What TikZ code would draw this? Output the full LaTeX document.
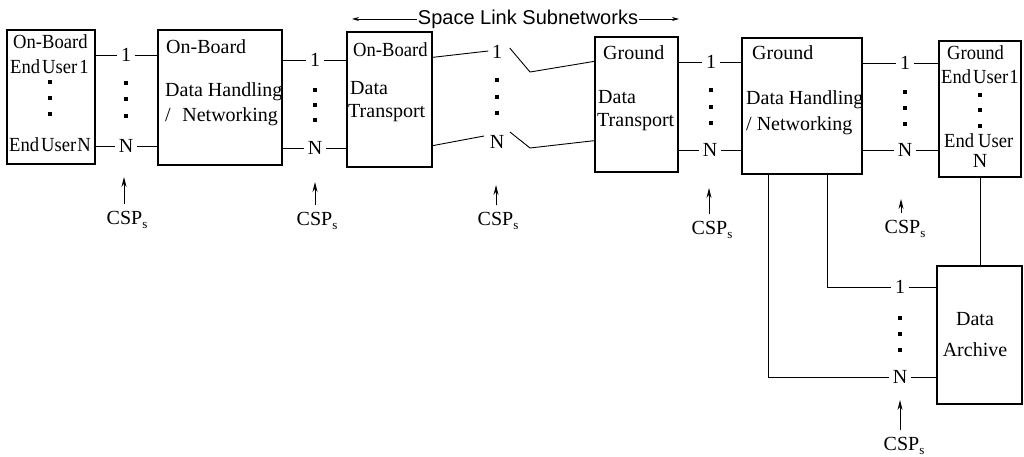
\documentclass[tikz,border=0pt]{standalone}
\usepackage{fontspec}
\setmainfont{Liberation Serif}
\newfontfamily\hdfont{Liberation Sans}
\newfontfamily\narrowfont[FakeStretch=0.93]{Liberation Serif}
\usetikzlibrary{arrows.meta,calc}
\newcommand{\cspsub}{CSP\raisebox{-4pt}{\fontsize{13}{13}\selectfont s}}
\begin{document}
\begin{tikzpicture}[x=1pt,y=-1pt,
  box/.style={draw,line width=1.3pt,inner sep=0pt},
  txt/.style={anchor=west,inner sep=0pt,font=\fontsize{20}{22}\selectfont},
  ntxt/.style={anchor=west,inner sep=0pt,font=\narrowfont\fontsize{20}{22}\selectfont},
  ctr/.style={inner sep=0pt,font=\fontsize{20}{22}\selectfont},
  lbl/.style={inner sep=3.5pt,font=\fontsize{20}{22}\selectfont},
  cspnode/.style={inner sep=0pt,outer sep=7pt,font=\fontsize{20}{22}\selectfont},
  dot/.style={fill,inner sep=0pt,minimum size=3.2pt},
  wire/.style={line width=0.9pt},
  csp/.style={line width=0.9pt,-{Stealth[length=10pt,width=5pt]}},
  hdarr/.style={line width=0.9pt,-{Stealth[length=7pt,width=4pt]}},
]
\useasboundingbox (0,0) rectangle (1024,457);

% ---------------- boxes ----------------
\node[box,minimum width=88pt,minimum height=134pt] (A) at (51,97) {};
\node[box,minimum width=124pt,minimum height=135pt] (B) at (220,97.5) {};
\node[box,minimum width=85pt,minimum height=135pt] (C) at (389.5,99.5) {};
\node[box,minimum width=83pt,minimum height=135pt] (D) at (636.5,104.5) {};
\node[box,minimum width=120pt,minimum height=136pt] (E) at (802,106) {};
\node[box,minimum width=82pt,minimum height=136pt] (F) at (980,109) {};
\node[box,minimum width=85pt,minimum height=138pt] (G) at (979.5,335) {};

% ---------------- box texts ----------------
\node[ntxt] (A1) at (13,42) {On-Board};
\node[ntxt] (A2) at (10,67) {End\kern2pt User\kern2pt 1};
\node[dot] (Ad1) at (50,82) {};
\node[dot] (Ad2) at (50,98) {};
\node[dot] (Ad3) at (50,114) {};
\node[ntxt] (A3) at (9,145) {End\kern2pt User\kern1pt N};

\node[txt] (B1) at (166,47) {On-Board};
\node[txt] (B2) at (165,92) {Data Handling};
\node[txt] (B3) at (165,117) {/\,\, Networking};

\node[ntxt] (C1) at (353,50) {On-Board};
\node[txt] (C2) at (350,88) {Data};
\node[txt] (C3) at (348,113) {Transport};

\node[txt] (D1) at (603,53) {Ground};
\node[txt] (D2) at (598,97) {Data};
\node[txt] (D3) at (597,122) {Transport};

\node[txt] (E1) at (752,53) {Ground};
\node[txt] (E2) at (746,100) {Data Handling};
\node[txt] (E3) at (746,126) {/ Networking};

\node[ntxt] (F1) at (947,53) {Ground};
\node[ntxt] (F2) at (941,77) {End\kern2pt User\kern1pt 1};
\node[dot] (Fd1) at (980,95) {};
\node[dot] (Fd2) at (980,110) {};
\node[dot] (Fd3) at (980,126) {};
\node[ntxt] (F3) at (944,141) {End\kern4pt User};
\node[ctr] (F4) at (980,161) {N};

\node[ctr] (G1) at (975,319) {Data};
\node[ctr] (G2) at (975,350) {Archive};

% ---------------- header ----------------
\node[inner sep=1pt,font=\hdfont\fontsize{20}{22}\selectfont] (hd) at (528,19) {Space Link Subnetworks};
\coordinate (hl) at (352,19);
\coordinate (hr) at (679,19);
\draw[hdarr] (hd) -- (hl);
\draw[hdarr] (hd) -- (hr);

% ---------------- service points 1 ... N ----------------
\node[lbl] (a1) at (126,55) {1};
\node[lbl] (aN) at (126,146) {N};
\foreach \y/\n in {83/1,99/2,116/3} \node[dot] (ad\n) at (126,\y) {};

\node[lbl] (b1) at (315,60) {1};
\node[lbl] (bN) at (315,148) {N};
\foreach \y/\n in {90/1,105/2,120/3} \node[dot] (bd\n) at (315,\y) {};

\node[lbl] (c1) at (497,52) {1};
\node[lbl] (cN) at (497,142) {N};
\foreach \y/\n in {80/1,97/2,113/3} \node[dot] (cd\n) at (497,\y) {};

\node[lbl] (d1) at (711,62) {1};
\node[lbl] (dN) at (710,150) {N};
\foreach \y/\n in {90/1,107/2,123/3} \node[dot] (dd\n) at (711,\y) {};

\node[lbl] (e1) at (905,63) {1};
\node[lbl] (eN) at (905,150) {N};
\foreach \y/\n in {92/1,108/2,124/3} \node[dot] (ed\n) at (905,\y) {};

\node[lbl] (g1) at (900,287) {1};
\node[lbl] (gN) at (900,377) {N};
\foreach \y/\n in {318/1,334/2,350/3} \node[dot] (gd\n) at (900,\y) {};

% ---------------- wiring ----------------
\draw[wire] (A.east |- a1) -- (a1);
\draw[wire] (a1) -- (B.west |- a1);
\draw[wire] (A.east |- aN) -- (aN);
\draw[wire] (aN) -- (B.west |- aN);

\draw[wire] (B.east |- b1) -- (b1);
\draw[wire] (b1) -- (C.west |- b1);
\draw[wire] (B.east |- bN) -- (bN);
\draw[wire] (bN) -- (C.west |- bN);

% space link: slanted feeds on both sides
\coordinate (k1) at (530,72);
\coordinate (k2) at (530,148);
\draw[wire] ($(C.north east)+(0,26)$) -- ([shift={(0,-1)}]c1.west);
\draw[wire] ([shift={(4,-4)}]c1.east) -- (k1) -- ($(D.north west)+(0,25)$);
\draw[wire] ($(C.south east)+(0,-22)$) -- ([shift={(-2,-6)}]cN.west);
\draw[wire] ([shift={(2,-10)}]cN.east) -- (k2) -- ($(D.south west)+(0,-32)$);

\draw[wire] (D.east |- d1) -- (d1);
\draw[wire] (d1) -- (E.west |- d1);
\draw[wire] (D.east |- dN) -- (dN);
\draw[wire] (dN) -- (E.west |- dN);

\draw[wire] (E.east |- e1) -- (e1);
\draw[wire] (e1) -- (F.west |- e1);
\draw[wire] (E.east |- eN) -- (eN);
\draw[wire] (eN) -- (F.west |- eN);

\draw[wire] (F.south) -- (G.north -| F.south);

\draw[wire] ($(E.south west)+(86,0)$) |- (g1);
\draw[wire] ($(E.south west)+(27,0)$) |- (gN);
\draw[wire] (g1) -- (G.west |- g1);
\draw[wire] (gN) -- (G.west |- gN);

% ---------------- CSP markers ----------------
\node[cspnode] (s1) at (127,220) {\cspsub};
\node[cspnode] (s2) at (317,221) {\cspsub};
\node[cspnode] (s3) at (498,221) {\cspsub};
\node[cspnode] (s4) at (712,230) {\cspsub};
\node[cspnode] (s5) at (905,229) {\cspsub};
\node[cspnode] (s6) at (904,446) {\cspsub};
\coordinate (t1) at (124,177);
\coordinate (t2) at (315,182);
\coordinate (t3) at (496,185);
\coordinate (t4) at (709,188);
\coordinate (t5) at (901,199);
\coordinate (t6) at (900,400);
\foreach \i in {1,...,6} \draw[csp] (s\i.north -| t\i) -- (t\i);
\end{tikzpicture}
\end{document}
